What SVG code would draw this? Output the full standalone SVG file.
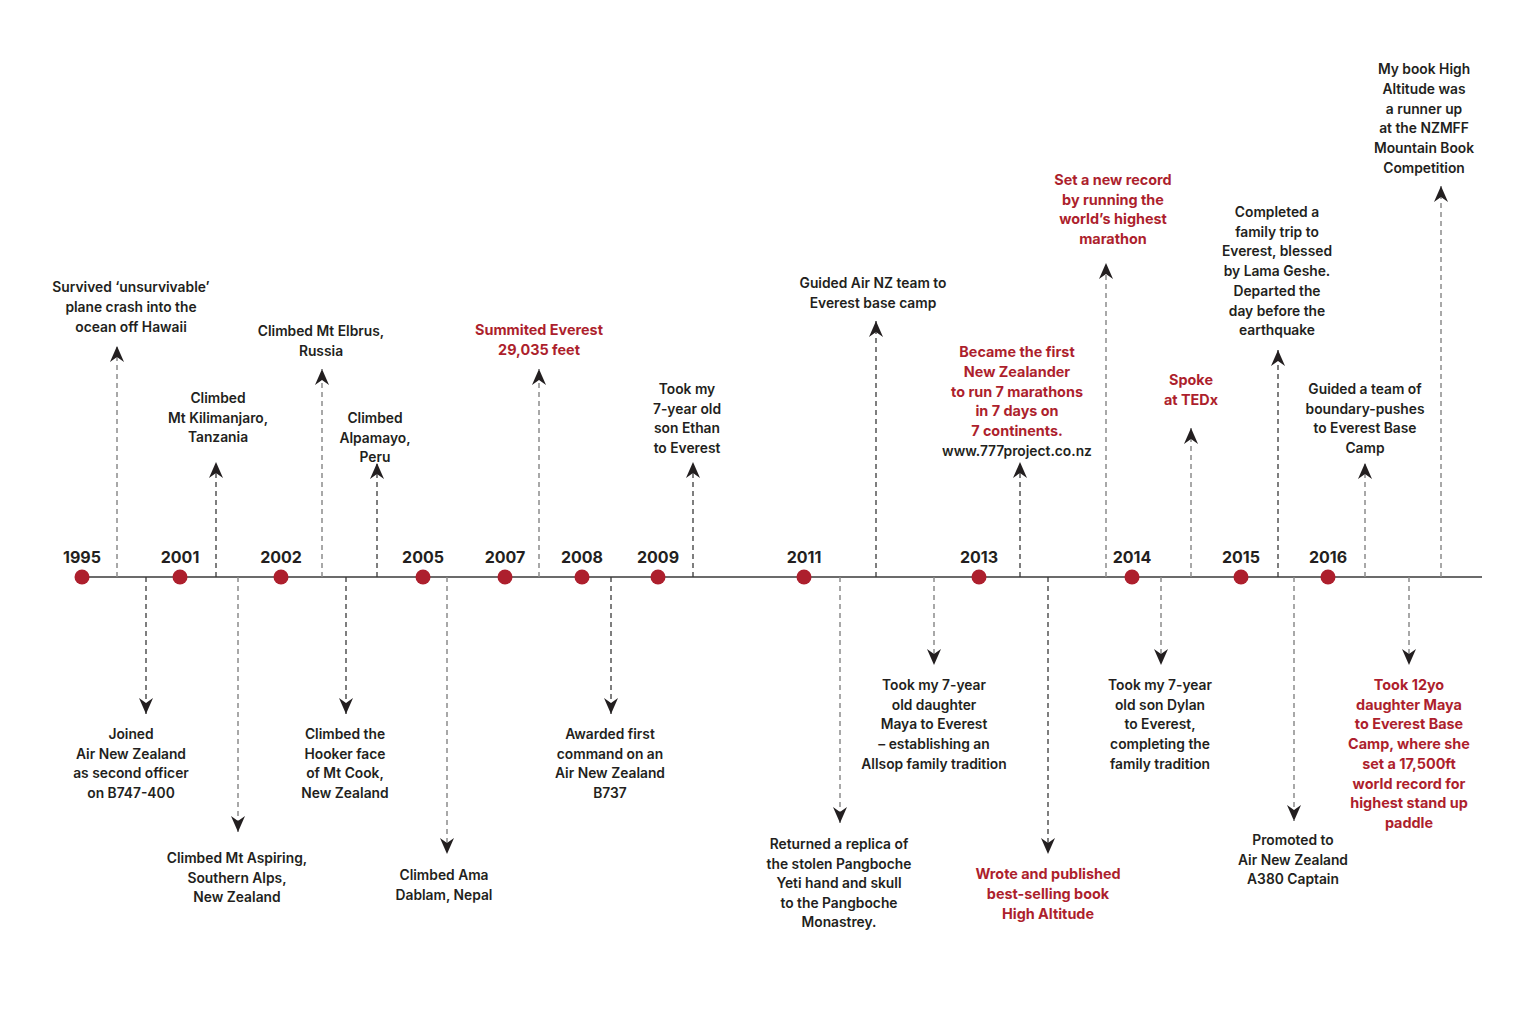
<svg xmlns="http://www.w3.org/2000/svg" width="1540" height="1027" viewBox="0 0 1540 1027">
<style>
text{font-family:Inter,"Liberation Sans",sans-serif;font-size:13.8px;font-weight:600;fill:#231f20;text-anchor:middle}
.r{fill:#ad1f2d;font-weight:700;font-size:14.4px}
.yr{font-size:16px;font-weight:700}
.dot{fill:#ad1f2d}
.g{stroke:#8c8c8c;stroke-width:1.5;stroke-dasharray:5 4;fill:none}
.d{stroke:#3a3a3a;stroke-width:1.3;stroke-dasharray:5 4;fill:none}
</style>
<defs>
<marker id="ah" viewBox="0 -8 16 16" refX="16" refY="0" markerWidth="16" markerHeight="16" markerUnits="userSpaceOnUse" orient="auto">
<path d="M16,0 L0,-7 L5,0 L0,7 Z" fill="#231f20"/>
</marker>
</defs>
<rect width="1540" height="1027" fill="#fff"/>
<g id="axis">
<line x1="82" y1="577" x2="1482" y2="577" stroke="#3a3a3a" stroke-width="1.5"/>
</g>
<g id="connectors">
<line class="g" x1="117" y1="577" x2="117" y2="346" marker-end="url(#ah)"/>
<line class="d" x1="216" y1="577" x2="216" y2="462" marker-end="url(#ah)"/>
<line class="g" x1="322" y1="577" x2="322" y2="369" marker-end="url(#ah)"/>
<line class="d" x1="377" y1="577" x2="377" y2="463" marker-end="url(#ah)"/>
<line class="g" x1="539" y1="577" x2="539" y2="369" marker-end="url(#ah)"/>
<line class="d" x1="693" y1="577" x2="693" y2="462" marker-end="url(#ah)"/>
<line class="d" x1="876" y1="577" x2="876" y2="321" marker-end="url(#ah)"/>
<line class="d" x1="1020" y1="577" x2="1020" y2="462" marker-end="url(#ah)"/>
<line class="g" x1="1106" y1="577" x2="1106" y2="263" marker-end="url(#ah)"/>
<line class="g" x1="1191" y1="577" x2="1191" y2="428" marker-end="url(#ah)"/>
<line class="d" x1="1278" y1="577" x2="1278" y2="350" marker-end="url(#ah)"/>
<line class="g" x1="1365" y1="577" x2="1365" y2="463" marker-end="url(#ah)"/>
<line class="g" x1="1441" y1="577" x2="1441" y2="186" marker-end="url(#ah)"/>
<line class="d" x1="146" y1="577" x2="146" y2="714" marker-end="url(#ah)"/>
<line class="g" x1="238" y1="577" x2="238" y2="832" marker-end="url(#ah)"/>
<line class="d" x1="346" y1="577" x2="346" y2="714" marker-end="url(#ah)"/>
<line class="g" x1="447" y1="577" x2="447" y2="854" marker-end="url(#ah)"/>
<line class="d" x1="611" y1="577" x2="611" y2="714" marker-end="url(#ah)"/>
<line class="g" x1="840" y1="577" x2="840" y2="823" marker-end="url(#ah)"/>
<line class="g" x1="934" y1="577" x2="934" y2="665" marker-end="url(#ah)"/>
<line class="d" x1="1048" y1="577" x2="1048" y2="854" marker-end="url(#ah)"/>
<line class="g" x1="1161" y1="577" x2="1161" y2="665" marker-end="url(#ah)"/>
<line class="g" x1="1294" y1="577" x2="1294" y2="821" marker-end="url(#ah)"/>
<line class="g" x1="1409" y1="577" x2="1409" y2="665" marker-end="url(#ah)"/>
</g>
<g id="years">
<g id="y1995"><circle class="dot" cx="82" cy="577" r="7.5"/><text class="yr" x="82" y="563">1995</text></g>
<g id="y2001"><circle class="dot" cx="180" cy="577" r="7.5"/><text class="yr" x="180" y="563">2001</text></g>
<g id="y2002"><circle class="dot" cx="281" cy="577" r="7.5"/><text class="yr" x="281" y="563">2002</text></g>
<g id="y2005"><circle class="dot" cx="423" cy="577" r="7.5"/><text class="yr" x="423" y="563">2005</text></g>
<g id="y2007"><circle class="dot" cx="505" cy="577" r="7.5"/><text class="yr" x="505" y="563">2007</text></g>
<g id="y2008"><circle class="dot" cx="582" cy="577" r="7.5"/><text class="yr" x="582" y="563">2008</text></g>
<g id="y2009"><circle class="dot" cx="658" cy="577" r="7.5"/><text class="yr" x="658" y="563">2009</text></g>
<g id="y2011"><circle class="dot" cx="804" cy="577" r="7.5"/><text class="yr" x="804" y="563">2011</text></g>
<g id="y2013"><circle class="dot" cx="979" cy="577" r="7.5"/><text class="yr" x="979" y="563">2013</text></g>
<g id="y2014"><circle class="dot" cx="1132" cy="577" r="7.5"/><text class="yr" x="1132" y="563">2014</text></g>
<g id="y2015"><circle class="dot" cx="1241" cy="577" r="7.5"/><text class="yr" x="1241" y="563">2015</text></g>
<g id="y2016"><circle class="dot" cx="1328" cy="577" r="7.5"/><text class="yr" x="1328" y="563">2016</text></g>
</g>
<g id="events-up">
<g id="e-crash"><text x="131" y="292"><tspan x="131">Survived ‘unsurvivable’</tspan><tspan x="131" dy="20">plane crash into the</tspan><tspan x="131" dy="20">ocean off Hawaii</tspan></text></g>
<g id="e-kili"><text x="218" y="403"><tspan x="218">Climbed</tspan><tspan x="218" dy="19.5">Mt Kilimanjaro,</tspan><tspan x="218" dy="19.5">Tanzania</tspan></text></g>
<g id="e-elbrus"><text x="321" y="336"><tspan x="321">Climbed Mt Elbrus,</tspan><tspan x="321" dy="20">Russia</tspan></text></g>
<g id="e-alpamayo"><text x="375" y="423"><tspan x="375">Climbed</tspan><tspan x="375" dy="19.5">Alpamayo,</tspan><tspan x="375" dy="19.5">Peru</tspan></text></g>
<g id="e-everest"><text class="r" x="539" y="335"><tspan x="539">Summited Everest</tspan><tspan x="539" dy="20">29,035 feet</tspan></text></g>
<g id="e-ethan"><text x="687" y="394"><tspan x="687">Took my</tspan><tspan x="687" dy="19.7">7-year old</tspan><tspan x="687" dy="19.7">son Ethan</tspan><tspan x="687" dy="19.7">to Everest</tspan></text></g>
<g id="e-airnz"><text x="873" y="288"><tspan x="873">Guided Air NZ team to</tspan><tspan x="873" dy="20">Everest base camp</tspan></text></g>
<g id="e-777"><text class="r" x="1017" y="357"><tspan x="1017">Became the first</tspan><tspan x="1017" dy="19.8">New Zealander</tspan><tspan x="1017" dy="19.8">to run 7 marathons</tspan><tspan x="1017" dy="19.8">in 7 days on</tspan><tspan x="1017" dy="19.8">7 continents.</tspan></text><text x="1017" y="456">www.777project.co.nz</text></g>
<g id="e-marathon"><text class="r" x="1113" y="185"><tspan x="1113">Set a new record</tspan><tspan x="1113" dy="19.7">by running the</tspan><tspan x="1113" dy="19.7">world’s highest</tspan><tspan x="1113" dy="19.7">marathon</tspan></text></g>
<g id="e-tedx"><text class="r" x="1191" y="385"><tspan x="1191">Spoke</tspan><tspan x="1191" dy="19.5">at TEDx</tspan></text></g>
<g id="e-family"><text x="1277" y="217"><tspan x="1277">Completed a</tspan><tspan x="1277" dy="19.7">family trip to</tspan><tspan x="1277" dy="19.7">Everest, blessed</tspan><tspan x="1277" dy="19.7">by Lama Geshe.</tspan><tspan x="1277" dy="19.7">Departed the</tspan><tspan x="1277" dy="19.7">day before the</tspan><tspan x="1277" dy="19.7">earthquake</tspan></text></g>
<g id="e-boundary"><text x="1365" y="394"><tspan x="1365">Guided a team of</tspan><tspan x="1365" dy="19.7">boundary-pushes</tspan><tspan x="1365" dy="19.7">to Everest Base</tspan><tspan x="1365" dy="19.7">Camp</tspan></text></g>
<g id="e-book2"><text x="1424" y="74"><tspan x="1424">My book High</tspan><tspan x="1424" dy="19.8">Altitude was</tspan><tspan x="1424" dy="19.8">a runner up</tspan><tspan x="1424" dy="19.8">at the NZMFF</tspan><tspan x="1424" dy="19.8">Mountain Book</tspan><tspan x="1424" dy="19.8">Competition</tspan></text></g>
</g>
<g id="events-down">
<g id="e-joined"><text x="131" y="739"><tspan x="131">Joined</tspan><tspan x="131" dy="19.7">Air New Zealand</tspan><tspan x="131" dy="19.7">as second officer</tspan><tspan x="131" dy="19.7">on B747-400</tspan></text></g>
<g id="e-aspiring"><text x="237" y="863"><tspan x="237">Climbed Mt Aspiring,</tspan><tspan x="237" dy="19.5">Southern Alps,</tspan><tspan x="237" dy="19.5">New Zealand</tspan></text></g>
<g id="e-hooker"><text x="345" y="739"><tspan x="345">Climbed the</tspan><tspan x="345" dy="19.7">Hooker face</tspan><tspan x="345" dy="19.7">of Mt Cook,</tspan><tspan x="345" dy="19.7">New Zealand</tspan></text></g>
<g id="e-ama"><text x="444" y="880"><tspan x="444">Climbed Ama</tspan><tspan x="444" dy="19.5">Dablam, Nepal</tspan></text></g>
<g id="e-command"><text x="610" y="739"><tspan x="610">Awarded first</tspan><tspan x="610" dy="19.7">command on an</tspan><tspan x="610" dy="19.7">Air New Zealand</tspan><tspan x="610" dy="19.7">B737</tspan></text></g>
<g id="e-yeti"><text x="839" y="849"><tspan x="839">Returned a replica of</tspan><tspan x="839" dy="19.6">the stolen Pangboche</tspan><tspan x="839" dy="19.6">Yeti hand and skull</tspan><tspan x="839" dy="19.6">to the Pangboche</tspan><tspan x="839" dy="19.6">Monastrey.</tspan></text></g>
<g id="e-maya"><text x="934" y="690"><tspan x="934">Took my 7-year</tspan><tspan x="934" dy="19.7">old daughter</tspan><tspan x="934" dy="19.7">Maya to Everest</tspan><tspan x="934" dy="19.7">– establishing an</tspan><tspan x="934" dy="19.7">Allsop family tradition</tspan></text></g>
<g id="e-book"><text class="r" x="1048" y="879"><tspan x="1048">Wrote and published</tspan><tspan x="1048" dy="20">best-selling book</tspan><tspan x="1048" dy="20">High Altitude</tspan></text></g>
<g id="e-dylan"><text x="1160" y="690"><tspan x="1160">Took my 7-year</tspan><tspan x="1160" dy="19.7">old son Dylan</tspan><tspan x="1160" dy="19.7">to Everest,</tspan><tspan x="1160" dy="19.7">completing the</tspan><tspan x="1160" dy="19.7">family tradition</tspan></text></g>
<g id="e-a380"><text x="1293" y="845"><tspan x="1293">Promoted to</tspan><tspan x="1293" dy="19.7">Air New Zealand</tspan><tspan x="1293" dy="19.7">A380 Captain</tspan></text></g>
<g id="e-paddle"><text class="r" x="1409" y="690"><tspan x="1409">Took 12yo</tspan><tspan x="1409" dy="19.7">daughter Maya</tspan><tspan x="1409" dy="19.7">to Everest Base</tspan><tspan x="1409" dy="19.7">Camp, where she</tspan><tspan x="1409" dy="19.7">set a 17,500ft</tspan><tspan x="1409" dy="19.7">world record for</tspan><tspan x="1409" dy="19.7">highest stand up</tspan><tspan x="1409" dy="19.7">paddle</tspan></text></g>
</g>
</svg>
